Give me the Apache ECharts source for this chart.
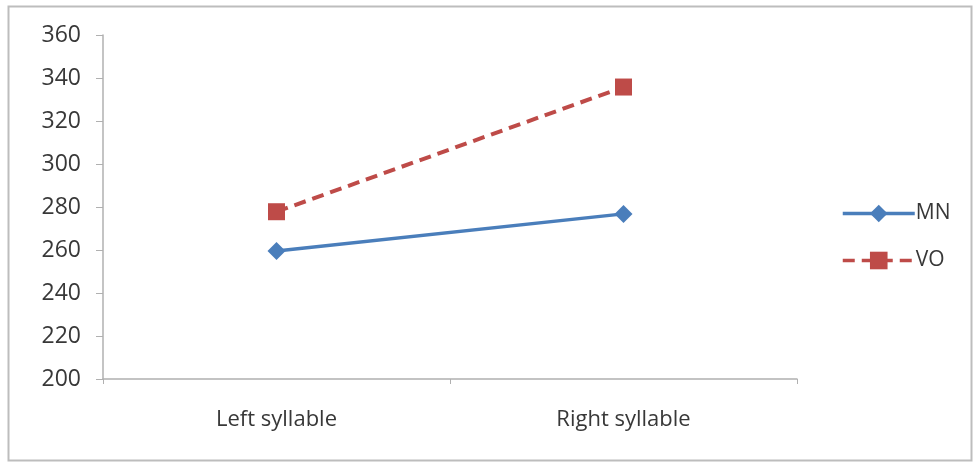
<!DOCTYPE html>
<html>
<head>
<meta charset="utf-8">
<script src="https://cdn.jsdelivr.net/npm/echarts@6/dist/echarts.min.js"></script>
<style>
  html, body { margin: 0; padding: 0; background: #fff; }
  #chart { width: 973px; height: 463px; }
</style>
</head>
<body>
<div id="chart"></div>
<script>
// Category labels along the x axis
const categories = ['Left syllable', 'Right syllable'];
// Series values
const mnValues = [259.5, 276.8];
const voValues = [277.8, 335.8];
// Y axis range
const yMin = 200;
const yMax = 360;
const yStep = 20;

const chart = echarts.init(document.getElementById('chart'));
const font = 'Open Sans, Lato, sans-serif';
const textColor = '#383838';

chart.setOption({
  animation: false,
  backgroundColor: '#ffffff',
  graphic: [{
    type: 'rect',
    shape: { x: 8.5, y: 6.5, width: 963, height: 454 },
    style: { fill: 'none', stroke: '#bdbdbd', lineWidth: 2 },
    z: 0
  }],
  grid: { left: 103, right: 176, top: 35, bottom: 84, containLabel: false },
  legend: {
    orient: 'vertical',
    left: 836,
    top: 198,
    itemGap: 26,
    itemWidth: 72,
    itemHeight: 22,
    lineStyle: { width: 3.5 },
    textStyle: { fontFamily: font, fontSize: 21, color: textColor, padding: [0, 0, 0, -4] },
    data: ['MN', 'VO']
  },
  xAxis: {
    type: 'category',
    data: categories,
    boundaryGap: true,
    axisLine: { lineStyle: { color: '#b0b0b0', width: 1.5 } },
    axisTick: { show: true, alignWithLabel: false, length: 5, lineStyle: { color: '#b0b0b0' } },
    axisLabel: { fontFamily: font, fontSize: 22, color: textColor, margin: 30 }
  },
  yAxis: {
    type: 'value',
    min: yMin,
    max: yMax,
    interval: yStep,
    axisLine: { show: true, lineStyle: { color: '#b0b0b0', width: 1.5 } },
    axisTick: { show: true, inside: false, length: 7, lineStyle: { color: '#b0b0b0' } },
    splitLine: { show: false },
    axisLabel: { fontFamily: font, fontSize: 23, color: textColor, margin: 22 }
  },
  series: [
    {
      name: 'MN',
      type: 'line',
      data: mnValues,
      symbol: 'diamond',
      symbolSize: 18,
      lineStyle: { color: '#4a7ebb', width: 3.5 },
      itemStyle: { color: '#4a7ebb' }
    },
    {
      name: 'VO',
      type: 'line',
      data: voValues,
      symbol: 'rect',
      symbolSize: 17,
      lineStyle: { color: '#be4b48', width: 4, type: [12, 7] },
      itemStyle: { color: '#be4b48' }
    }
  ]
});
</script>
</body>
</html>
